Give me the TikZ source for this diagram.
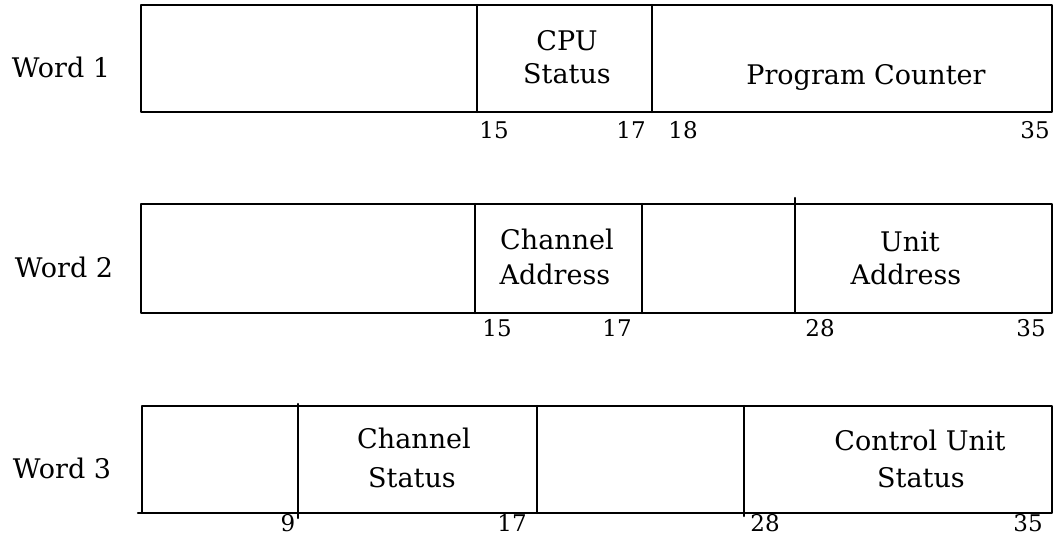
\documentclass[tikz,border=0pt]{standalone}
\usepackage{fontspec}
\setmainfont{DejaVu Serif}
\begin{document}
\begin{tikzpicture}[x=1pt,y=-1pt,
  frame/.style={line width=2.2pt, line cap=round, line join=round},
  txt/.style={font=\fontsize{27}{30}\selectfont, inner sep=0pt, anchor=base},
  num/.style={font=\fontsize{23}{26}\selectfont, inner sep=0pt, anchor=base}]
\useasboundingbox (0,0) rectangle (1063,545);
% ---------- Word 1
\draw[frame] (141,5) rectangle (1052,112);
\draw[frame] (477,5) -- (477,112);
\draw[frame] (652,5) -- (652,112);
\node[txt] (w1) at (61,78) {Word 1};
\node[txt] (cpu) at (567,51) {CPU};
\node[txt] (cpus) at (567,84) {Status};
\node[txt] (pc) at (866,85) {Program Counter};
\node[num] (a15) at (494,139) {15};
\node[num] (a17) at (631,139) {17};
\node[num] (a18) at (683,139) {18};
\node[num] (a35) at (1035,139) {35};
% ---------- Word 2
\draw[frame] (141,204) rectangle (1052,313);
\draw[frame] (475,204) -- (475,313);
\draw[frame] (642,204) -- (642,313);
\draw[frame] (795,198) -- (795,313);
\node[txt] (w2) at (64,278) {Word 2};
\node[txt] (ch2) at (557,250) {Channel};
\node[txt] (ad2) at (555,285) {Address};
\node[txt] (un2) at (910,252) {Unit};
\node[txt] (ua2) at (906,285) {Address};
\node[num] (b15) at (497,337) {15};
\node[num] (b17) at (617,337) {17};
\node[num] (b28) at (820,337) {28};
\node[num] (b35) at (1031,337) {35};
% ---------- Word 3
\draw[frame] (142,406) rectangle (1052,513);
\draw[frame] (138,513) -- (142,513);
\draw[frame] (298,404) -- (298,518);
\draw[frame] (537,406) -- (537,513);
\draw[frame] (744,406) -- (744,516);
\node[txt] (w3) at (62,478) {Word 3};
\node[txt] (ch3) at (414,448) {Channel};
\node[txt] (st3) at (412,487) {Status};
\node[txt] (cu3) at (920,450) {Control Unit};
\node[txt] (cs3) at (921,487) {Status};
\node[num] (c9) at (288,531) {9};
\node[num] (c17) at (512,531) {17};
\node[num] (c28) at (765,531) {28};
\node[num] (c35) at (1028,531) {35};
\end{tikzpicture}
\end{document}
